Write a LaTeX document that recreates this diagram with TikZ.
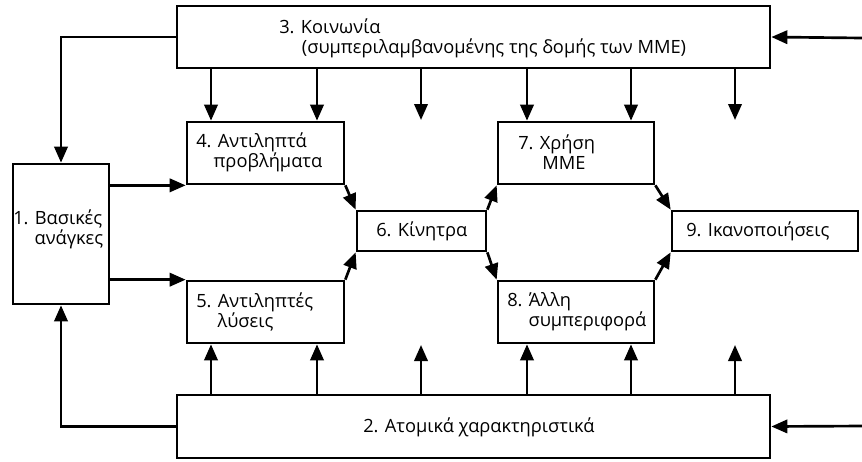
\documentclass[tikz,border=0pt]{standalone}
\usepackage{fontspec}
\setmainfont{Open Sans}
\usetikzlibrary{arrows.meta}

\tikzset{
  box/.style 2 args={draw, line width=2pt, inner sep=0pt, minimum width=#1*0.75pt, minimum height=#2*0.75pt},
  lbl/.style={anchor=west, inner sep=0pt, align=left, font=\fontsize{13.7}{15}\selectfont},
  arr/.style={line width=2pt, -{Triangle[length=12pt,width=10pt]}}
}

\begin{document}
\begin{tikzpicture}[x=0.75pt, y=-0.75pt]
\useasboundingbox (0,0) rectangle (862,461);

\node[box={593}{62}] (soc) at (473.5,37) {};
\node[box={593}{63}] (ind) at (473.5,426.5) {};
\node[box={96}{140}] (needs) at (61,234) {};
\node[box={157}{62}] (prob) at (265.5,153) {};
\node[box={157}{62}] (sol) at (265.5,312) {};
\node[box={129}{40}] (mot) at (421.5,231) {};
\node[box={156}{62}] (use) at (576,153) {};
\node[box={156}{62}] (other) at (576,312) {};
\node[box={186}{40}] (grat) at (765,231) {};

\node[lbl] (socl) at (279,38) {3. Κοινωνία\\\hspace{17pt}(συμπεριλαμβανομένης της δομής των ΜΜΕ)};
\node[lbl] (indl) at (363,427) {2. Ατομικά χαρακτηριστικά};
\node[lbl] (needsl) at (13,229) {1. Βασικές\\\hspace{16pt}ανάγκες};
\node[lbl] (probl) at (196,152) {4. Αντιληπτά\\\hspace{13pt}προβλήματα};
\node[lbl] (soll) at (196,312) {5. Αντιληπτές\\\hspace{16pt}λύσεις};
\node[lbl] (motl) at (376,231) {6. Κίνητρα};
\node[lbl] (usel) at (518,152) {7. Χρήση\\\hspace{18pt}ΜΜΕ};
\node[lbl] (otherl) at (507,312) {8. Άλλη\\\hspace{16pt}συμπεριφορά};
\node[lbl] (gratl) at (686,231) {9. Ικανοποιήσεις};

\coordinate (t3) at (421,120);
\coordinate (t6) at (735,120);
\coordinate (b3) at (421,345);
\coordinate (b6) at (735,345);
\coordinate (insoc) at (862,38);
\coordinate (inind) at (862,426);

\foreach \xx in {211,317}
  \draw[arr] (soc.south -| \xx,0) -- (prob.north -| \xx,0);
\foreach \xx in {527,631}
  \draw[arr] (soc.south -| \xx,0) -- (use.north -| \xx,0);
\foreach \xx in {211,317}
  \draw[arr] (ind.north -| \xx,0) -- (sol.south -| \xx,0);
\foreach \xx in {527,631}
  \draw[arr] (ind.north -| \xx,0) -- (other.south -| \xx,0);
\draw[arr] (soc.south -| t3) -- (t3);
\draw[arr] (soc.south -| t6) -- (t6);
\draw[arr] (ind.north -| b3) -- (b3);
\draw[arr] (ind.north -| b6) -- (b6);

\draw[arr] (soc.west) -| (needs.north);
\draw[arr] (ind.west) -| (needs.south);
\draw[arr] (insoc) -- (soc.east);
\draw[arr] (inind) -- (ind.east);

\draw[arr] (needs.east |- prob.south west) -- (prob.south west);
\draw[arr] (needs.east |- sol.north west) -- (sol.north west);
\draw[arr] (prob.south east) -- (mot.north west);
\draw[arr] (sol.north east) -- (mot.south west);
\draw[arr] (mot.north east) -- (use.south west);
\draw[arr] (mot.south east) -- (other.north west);
\draw[arr] (use.south east) -- (grat.north west);
\draw[arr] (other.north east) -- (grat.south west);

\end{tikzpicture}
\end{document}
